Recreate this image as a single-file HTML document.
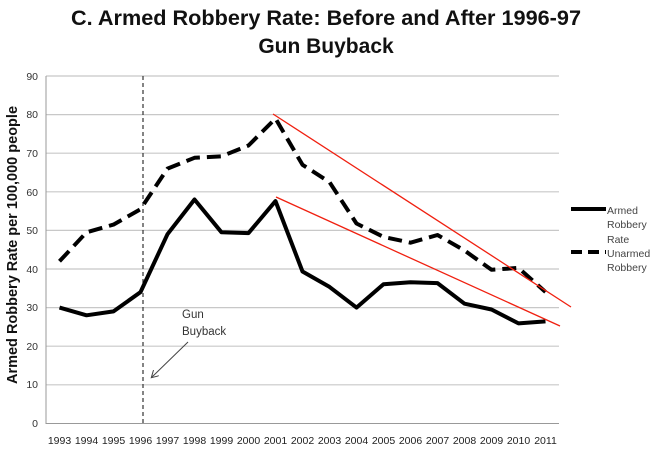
<!DOCTYPE html>
<html><head><meta charset="utf-8"><style>
body{margin:0;background:#fff;}
svg{display:block;font-family:"Liberation Sans",sans-serif;}
</style></head><body>
<svg width="656" height="449" viewBox="0 0 656 449">
<defs><marker id="ah" markerWidth="8" markerHeight="8" refX="6" refY="4" orient="auto"><path d="M0,0 L7,4 L0,8" fill="none" stroke="#444" stroke-width="1"/></marker></defs>
<text x="326" y="25" text-anchor="middle" font-size="21" font-weight="bold" fill="#111" textLength="510" lengthAdjust="spacingAndGlyphs">C. Armed Robbery Rate: Before and After 1996-97</text>
<text x="326" y="53" text-anchor="middle" font-size="21" font-weight="bold" fill="#111">Gun Buyback</text>
<g stroke="#c8c8c8" stroke-width="1.2">
<line x1="46" y1="76" x2="559" y2="76"/><line x1="46" y1="114.6" x2="559" y2="114.6"/><line x1="46" y1="153.2" x2="559" y2="153.2"/><line x1="46" y1="191.8" x2="559" y2="191.8"/><line x1="46" y1="230.4" x2="559" y2="230.4"/><line x1="46" y1="269" x2="559" y2="269"/><line x1="46" y1="307.6" x2="559" y2="307.6"/><line x1="46" y1="346.2" x2="559" y2="346.2"/><line x1="46" y1="384.8" x2="559" y2="384.8"/>
</g>
<line x1="46" y1="76" x2="46" y2="424" stroke="#999"/>
<line x1="46" y1="423.5" x2="559" y2="423.5" stroke="#999"/>
<g font-size="10.5" fill="#333" text-anchor="end">
<text x="38" y="80">90</text><text x="38" y="118">80</text><text x="38" y="157">70</text><text x="38" y="196">60</text><text x="38" y="234">50</text><text x="38" y="273">40</text><text x="38" y="311">30</text><text x="38" y="350">20</text><text x="38" y="388">10</text><text x="38" y="427">0</text>
</g>
<g font-size="10.5" fill="#222" text-anchor="middle">
<text x="59.5" y="444">1993</text><text x="86.5" y="444">1994</text><text x="113.5" y="444">1995</text><text x="140.5" y="444">1996</text><text x="167.5" y="444">1997</text><text x="194.5" y="444">1998</text><text x="221.5" y="444">1999</text><text x="248.5" y="444">2000</text><text x="275.5" y="444">2001</text><text x="302.5" y="444">2002</text><text x="329.5" y="444">2003</text><text x="356.5" y="444">2004</text><text x="383.5" y="444">2005</text><text x="410.5" y="444">2006</text><text x="437.5" y="444">2007</text><text x="464.5" y="444">2008</text><text x="491.5" y="444">2009</text><text x="518.5" y="444">2010</text><text x="545.5" y="444">2011</text>
</g>
<text transform="translate(17,245) rotate(-90)" text-anchor="middle" font-size="14.5" font-weight="bold" fill="#111">Armed Robbery Rate per 100,000 people</text>
<line x1="143" y1="76" x2="143" y2="424" stroke="#333" stroke-width="1.2" stroke-dasharray="4,3"/>
<polyline fill="none" stroke="#000" stroke-width="4" stroke-linejoin="round" points="59.5,307.6 86.5,315.3 113.5,311.4 140.5,292.1 167.5,234.2 194.5,199.5 221.5,232.3 248.5,233.1 275.5,201.1 302.5,271.5 329.5,286.9 356.5,307.6 383.5,284.2 410.5,282.3 437.5,283.1 464.5,303.7 491.5,309.5 518.5,323.4 545.5,321.4"/>
<polyline fill="none" stroke="#000" stroke-width="4" stroke-dasharray="14,7" stroke-linejoin="round" points="59.5,261.3 86.5,232.3 113.5,224.6 140.5,209.2 167.5,168.6 194.5,157.8 221.5,156.3 248.5,145.5 275.5,118.5 302.5,164.8 329.5,182.1 356.5,223.5 383.5,236.9 410.5,242.7 437.5,235 464.5,250.5 491.5,269.8 518.5,267.9 545.5,292"/>
<line x1="273" y1="114" x2="571" y2="307" stroke="#f02010" stroke-width="1.3"/>
<line x1="276" y1="197" x2="560" y2="326" stroke="#f02010" stroke-width="1.3"/>
<text x="182" y="318" font-size="11.5" fill="#333">Gun</text>
<text x="182" y="335" font-size="11.5" fill="#333">Buyback</text>
<line x1="188" y1="342" x2="152" y2="377" stroke="#444" stroke-width="1" marker-end="url(#ah)"/>
<line x1="571" y1="209" x2="606" y2="209" stroke="#000" stroke-width="4"/>
<line x1="571" y1="252" x2="606" y2="252" stroke="#000" stroke-width="4" stroke-dasharray="11,6"/>
<g font-size="10.5" fill="#444">
<text x="607" y="214">Armed</text><text x="607" y="228">Robbery</text><text x="607" y="243">Rate</text><text x="607" y="257">Unarmed</text><text x="607" y="271">Robbery</text>
</g>
</svg>
</body></html>
